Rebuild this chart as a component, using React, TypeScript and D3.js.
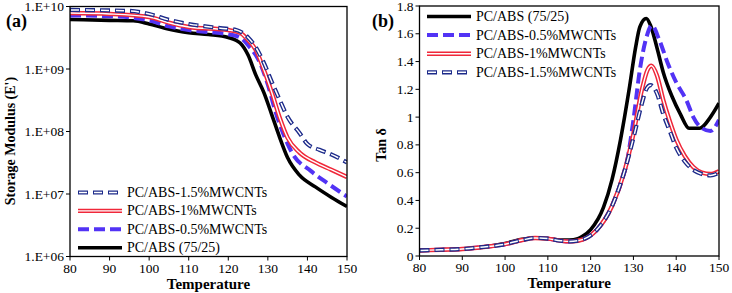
import React, { useEffect, useRef } from "react"
import * as d3 from "d3"

// ---- panel (a): storage modulus (Pa), log scale
const tempA = [80, 90, 96, 100, 104, 110, 115, 120, 123, 125, 127, 129, 131, 133, 135, 138, 142, 146, 150]
const modNeat = [6.2e9, 6.0e9, 5.9e9, 5.25e9, 4.5e9, 3.8e9, 3.57e9, 3.2e9, 2.6e9, 1.67e9, 7.9e8, 4.2e8, 1.85e8, 8e7, 3.8e7, 2.0e7, 1.3e7, 8.9e6, 6.3e6]
const tempA05 = [80, 90, 100, 105, 110, 115, 120, 123, 125, 128, 130, 132, 134, 136, 141, 145, 150]
const mod05 = [7.2e9, 7.0e9, 6.0e9, 4.8e9, 4.2e9, 3.9e9, 3.6e9, 3.2e9, 2.4e9, 1.26e9, 5.6e8, 2.0e8, 8.9e7, 4.7e7, 2.3e7, 1.5e7, 9.1e6]
const tempA1 = [80, 90, 100, 105, 110, 120, 123, 125, 127, 129, 131, 133, 135, 138, 142, 146, 150]
const mod1 = [7.85e9, 7.6e9, 6.8e9, 5.5e9, 4.7e9, 4.2e9, 3.8e9, 2.9e9, 2.0e9, 9.7e8, 4.2e8, 1.66e8, 7.9e7, 4.6e7, 3.2e7, 2.45e7, 1.87e7]
const tempA15 = [80, 95, 100, 105, 110, 118, 122, 125, 127, 129, 131, 133, 135, 138, 140, 143, 146, 150]
const mod15 = [8.8e9, 8.5e9, 7.6e9, 6.1e9, 5.25e9, 4.5e9, 4.2e9, 3.2e9, 2.2e9, 1.25e9, 6.2e8, 3.2e8, 1.7e8, 9.5e7, 6.3e7, 5.1e7, 4.3e7, 3.2e7]
const modTicks = [1e6, 1e7, 1e8, 1e9, 1e10]
const modTickLabels = ["1.E+06", "1.E+07", "1.E+08", "1.E+09", "1.E+10"]

// ---- panel (b): tan delta
const tempB = [80, 85, 90, 95, 100, 104, 107, 110, 113, 115, 117, 118, 120, 123, 125, 127, 129, 130.5, 131.5, 133, 134, 135.5, 137, 139, 141, 143, 145.5, 148, 150]
const tanNeat = [0.04, 0.045, 0.05, 0.065, 0.09, 0.12, 0.13, 0.125, 0.115, 0.115, 0.125, 0.14, 0.19, 0.35, 0.55, 0.84, 1.2, 1.5, 1.65, 1.71, 1.66, 1.5, 1.32, 1.15, 1.02, 0.92, 0.92, 1.0, 1.1]
const tempB05 = [80, 85, 90, 95, 100, 104, 107, 110, 113, 115, 117, 119, 121.5, 125, 127, 128.5, 130, 131.5, 133, 134.3, 136, 138, 140, 142.4, 144, 145.6, 148, 150]
const tan05 = [0.04, 0.045, 0.05, 0.065, 0.085, 0.115, 0.13, 0.125, 0.11, 0.105, 0.11, 0.13, 0.19, 0.36, 0.52, 0.68, 0.98, 1.34, 1.57, 1.66, 1.56, 1.39, 1.25, 1.12, 1.0, 0.93, 0.9, 0.98]
const tempB1 = [80, 85, 90, 95, 100, 104, 107, 110, 113, 115, 117, 119, 121.5, 125, 128, 130, 132, 133.3, 134.2, 135.5, 137, 138.5, 140, 142, 144, 146, 148, 150]
const tan1 = [0.04, 0.045, 0.05, 0.065, 0.085, 0.115, 0.13, 0.125, 0.11, 0.105, 0.11, 0.13, 0.19, 0.36, 0.62, 0.88, 1.2, 1.34, 1.37, 1.3, 1.12, 0.97, 0.84, 0.72, 0.64, 0.6, 0.59, 0.61]
const tempB15 = [80, 85, 90, 95, 100, 104, 107, 110, 113, 115, 117, 119, 121.5, 125, 128, 130, 132, 133, 134, 135.5, 137, 138.5, 140, 142, 144, 146, 148, 150]
const tan15 = [0.04, 0.045, 0.05, 0.065, 0.085, 0.115, 0.13, 0.125, 0.11, 0.105, 0.11, 0.13, 0.19, 0.36, 0.62, 0.85, 1.1, 1.2, 1.23, 1.17, 1.02, 0.9, 0.78, 0.68, 0.62, 0.59, 0.58, 0.6]
const tanTicks = [0, 0.2, 0.4, 0.6, 0.8, 1, 1.2, 1.4, 1.6, 1.8]
const tempTicks = [80, 90, 100, 110, 120, 130, 140, 150]

const LABELS = {
  neat: "PC/ABS (75/25)",
  c05: "PC/ABS-0.5%MWCNTs",
  c1: "PC/ABS-1%MWCNTs",
  c15: "PC/ABS-1.5%MWCNTs",
}

const FONT = "'Liberation Serif', 'Times New Roman', serif"
const NAVY = "#1c2a8a"
const PURPLE = "#5233f5"

// draw one series in its style (solid, dashed, double, double dashed)
function drawStyled(g, d, kind) {
  if (kind === "neat") {
    g.append("path").attr("d", d).attr("fill", "none").attr("stroke", "#000").attr("stroke-width", 3.6)
  } else if (kind === "c05") {
    g.append("path").attr("d", d).attr("fill", "none").attr("stroke", PURPLE).attr("stroke-width", 4)
      .attr("stroke-dasharray", "11,5")
  } else if (kind === "c1") {
    g.append("path").attr("d", d).attr("fill", "none").attr("stroke", "#f0283a").attr("stroke-width", 4.4)
    g.append("path").attr("d", d).attr("fill", "none").attr("stroke", "#fff").attr("stroke-width", 1.4)
  } else {
    g.append("path").attr("d", d).attr("fill", "none").attr("stroke", NAVY).attr("stroke-width", 4.2)
      .attr("stroke-dasharray", "10,5").attr("stroke-linecap", "butt")
    g.append("path").attr("d", d).attr("fill", "none").attr("stroke", "#fff").attr("stroke-width", 1.5)
      .attr("stroke-dasharray", "8,7").attr("stroke-dashoffset", -1)
  }
}

function App() {
  const svgRef = useRef()

  useEffect(() => {
    const svg = d3.select(svgRef.current)
    svg.selectAll("*").remove()

    const panel = (opts) => {
      const { left, right, top, bottom, y, ticks, tickLabels, series, legend, letter, letterX, title, titleX, titleY } = opts
      const x = d3.scaleLinear().domain([80, 150]).range([left, right])
      const g = svg.append("g")

      // series (clipped to plot)
      const clipId = "clip" + letter
      svg.append("clipPath").attr("id", clipId).append("rect")
        .attr("x", left).attr("y", top).attr("width", right - left).attr("height", bottom - top)
      const sg = g.append("g").attr("clip-path", `url(#${clipId})`)
      series.forEach(s => {
        const line = d3.line().x((d, i) => x(s.t[i])).y(d => y(d)).curve(d3.curveMonotoneX)
        drawStyled(sg, line(s.v), s.kind)
      })

      // frame
      g.append("rect").attr("x", left).attr("y", top).attr("width", right - left).attr("height", bottom - top)
        .attr("fill", "none").attr("stroke", "#000").attr("stroke-width", 1.3)

      // y ticks
      ticks.forEach((t, i) => {
        g.append("line").attr("x1", left - 4).attr("x2", left).attr("y1", y(t)).attr("y2", y(t)).attr("stroke", "#000")
        g.append("text").attr("x", left - 6).attr("y", y(t) + 4.5).attr("text-anchor", "end")
          .attr("font-family", FONT).attr("font-size", 13.5).text(tickLabels[i])
      })
      // x ticks
      tempTicks.forEach(t => {
        g.append("line").attr("x1", x(t)).attr("x2", x(t)).attr("y1", bottom).attr("y2", bottom + 4).attr("stroke", "#000")
        g.append("text").attr("x", x(t)).attr("y", bottom + 16).attr("text-anchor", "middle")
          .attr("font-family", FONT).attr("font-size", 13.5).text(t)
      })
      g.append("text").attr("x", (left + right) / 2).attr("y", bottom + 32).attr("text-anchor", "middle")
        .attr("font-family", FONT).attr("font-size", 15).attr("font-weight", "bold").text("Temperature")
      g.append("text").attr("transform", `translate(${titleX},${titleY}) rotate(-90)`)
        .attr("text-anchor", "middle").attr("font-family", FONT).attr("font-size", 14).attr("font-weight", "bold").text(title)
      g.append("text").attr("x", letterX).attr("y", 27).attr("font-family", FONT).attr("font-size", 18)
        .attr("font-weight", "bold").text(`(${letter})`)

      // legend
      legend.items.forEach((k, i) => {
        const ly = legend.y + i * legend.step
        drawStyled(g, `M${legend.x},${ly}L${legend.x + 44},${ly}`, k)
        g.append("text").attr("x", legend.x + 49).attr("y", ly + 4.5).attr("font-family", FONT)
          .attr("font-size", 14).text(LABELS[k])
      })
    }

    const yA = d3.scaleLog().domain([1e6, 1e10]).range([256.5, 6.5])
    panel({
      left: 70, right: 347, top: 6.5, bottom: 256.5, y: yA,
      ticks: modTicks, tickLabels: modTickLabels,
      series: [
        { kind: "neat", t: tempA, v: modNeat },
        { kind: "c05", t: tempA05, v: mod05 },
        { kind: "c1", t: tempA1, v: mod1 },
        { kind: "c15", t: tempA15, v: mod15 },
      ],
      legend: { x: 78, y: 192.5, step: 18.4, items: ["c15", "c1", "c05", "neat"] },
      letter: "a", letterX: 6, title: "Storage Modulus (E')", titleX: 15, titleY: 141,
    })

    const yB = d3.scaleLinear().domain([0, 1.8]).range([256, 6])
    panel({
      left: 419.5, right: 719, top: 6, bottom: 256, y: yB,
      ticks: tanTicks, tickLabels: tanTicks.map(t => String(t)),
      series: [
        { kind: "neat", t: tempB, v: tanNeat },
        { kind: "c05", t: tempB05, v: tan05 },
        { kind: "c1", t: tempB1, v: tan1 },
        { kind: "c15", t: tempB15, v: tan15 },
      ],
      legend: { x: 427, y: 16.5, step: 18.6, items: ["neat", "c05", "c1", "c15"] },
      letter: "b", letterX: 372, title: "Tan δ", titleX: 386, titleY: 145,
    })
  }, [])

  return (
    <svg ref={svgRef} width={732} height={293} style={{ position: "absolute", left: 0, top: 0, background: "#fff" }}></svg>
  )
}

export default App
